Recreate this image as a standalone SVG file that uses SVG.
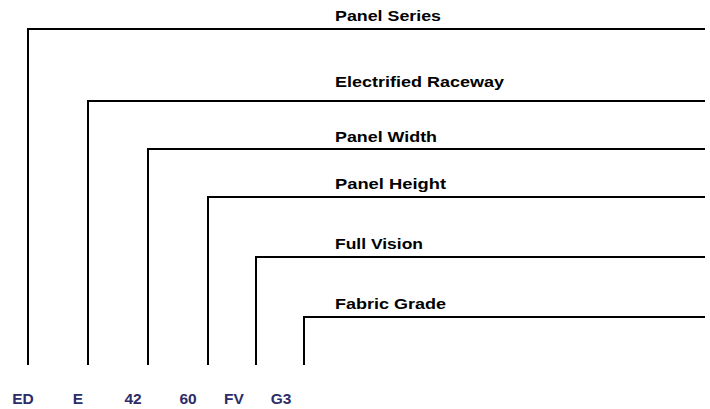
<svg xmlns="http://www.w3.org/2000/svg" width="710" height="409" viewBox="0 0 710 409">
<style>
.ln{fill:none;stroke:#000;stroke-width:2}
.lb{font-family:"Liberation Sans",Arial,sans-serif;font-weight:bold;font-size:15.5px;fill:#000}
.cd{font-family:"Liberation Sans",Arial,sans-serif;font-weight:bold;font-size:15.5px;fill:#2e2b69;text-anchor:middle}
</style>
<rect width="710" height="409" fill="#fff"/>
<g id="connectors">
<polyline class="ln" points="28,365 28,29 705,29"/>
<polyline class="ln" points="88,365 88,101 705,101"/>
<polyline class="ln" points="148,365 148,149 705,149"/>
<polyline class="ln" points="208,365 208,197 705,197"/>
<polyline class="ln" points="256,365 256,257 705,257"/>
<polyline class="ln" points="304,365 304,317 705,317"/>
</g>
<g id="labels">
<text class="lb" x="335" y="21" textLength="106" lengthAdjust="spacingAndGlyphs">Panel Series</text>
<text class="lb" x="335" y="87" textLength="169" lengthAdjust="spacingAndGlyphs">Electrified Raceway</text>
<text class="lb" x="335" y="142" textLength="102" lengthAdjust="spacingAndGlyphs">Panel Width</text>
<text class="lb" x="335" y="189" textLength="111" lengthAdjust="spacingAndGlyphs">Panel Height</text>
<text class="lb" x="335" y="249" textLength="88" lengthAdjust="spacingAndGlyphs">Full Vision</text>
<text class="lb" x="335" y="309" textLength="111" lengthAdjust="spacingAndGlyphs">Fabric Grade</text>
</g>
<g id="codes">
<text class="cd" x="23" y="404">ED</text>
<text class="cd" x="78" y="404">E</text>
<text class="cd" x="133" y="404">42</text>
<text class="cd" x="188" y="404">60</text>
<text class="cd" x="234" y="404">FV</text>
<text class="cd" x="281" y="404">G3</text>
</g>
</svg>
